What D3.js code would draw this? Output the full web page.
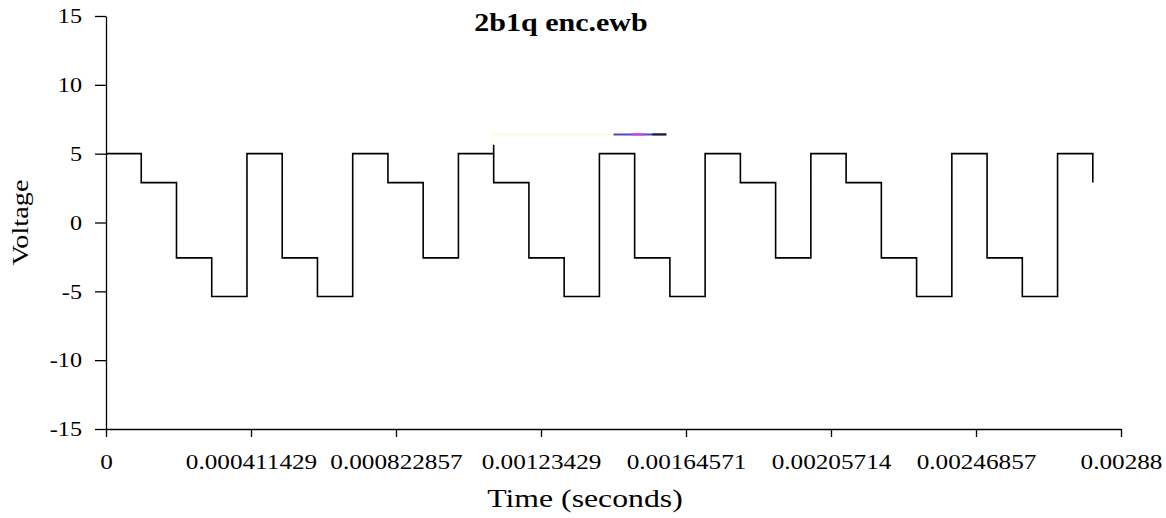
<!DOCTYPE html>
<html>
<head>
<meta charset="utf-8">
<script src="https://cdn.jsdelivr.net/npm/d3@7"></script>
<style>
  body { margin: 0; background: #fff; }
</style>
</head>
<body>
<svg id="chart" width="1166" height="518"></svg>
<script>
// step waveform (time in seconds, voltage in volts)
const times = [0, 0.0001, 0.0002, 0.0003, 0.0004, 0.0005, 0.0006, 0.0007, 0.0008, 0.0009,
  0.001, 0.0011, 0.0011, 0.0012, 0.0013, 0.0014, 0.0015, 0.0016, 0.0017, 0.0018, 0.0019,
  0.002, 0.0021, 0.0022, 0.0023, 0.0024, 0.0025, 0.0026, 0.0027, 0.0028]
const volts = [5, 2.9, -2.57, -5.37, 5, -2.57, -5.37, 5, 2.9, -2.57,
  5, 5.65, 2.9, -2.57, -5.37, 5, -2.57, -5.37, 5, 2.9, -2.57,
  5, 2.9, -2.57, -5.37, 5, -2.57, -5.37, 5, 2.9]
const xTicks = [0, 0.000411429, 0.000822857, 0.00123429, 0.00164571, 0.00205714, 0.00246857, 0.00288]
const xTickLabels = ['0', '0.000411429', '0.000822857', '0.00123429', '0.00164571', '0.00205714', '0.00246857', '0.00288']
const yTicks = [-15, -10, -5, 0, 5, 10, 15]
const title = '2b1q enc.ewb'

const margin = {top: 16, right: 45, bottom: 89, left: 106}
const width = 1166, height = 518
const serif = '"Liberation Serif", "Times New Roman", "DejaVu Serif", serif'

const svg = d3.select('#chart')

const x = d3.scaleLinear().domain([0, 0.00288]).range([margin.left, width - margin.right])
const y = d3.scaleLinear().domain([-15, 15]).range([height - margin.bottom, margin.top])

// the source font is wider than Times, so stretch each label a bit
const widen = (k) => (sel) => sel.each(function () {
  const len = this.getComputedTextLength()
  d3.select(this).attr('textLength', len * k).attr('lengthAdjust', 'spacingAndGlyphs')
})

// axes
const xAxis = svg.append('g')
  .attr('transform', `translate(0,${y(-15)})`)
  .call(d3.axisBottom(x).tickValues(xTicks).tickFormat((d, i) => xTickLabels[i]).tickSizeInner(8).tickSizeOuter(0).tickPadding(17))
xAxis.attr('font-family', null).attr('font-size', null)
xAxis.select('.domain').attr('stroke', '#000').attr('stroke-width', 1.3)
xAxis.selectAll('.tick line').attr('stroke', '#000').attr('stroke-width', 1.3)
xAxis.selectAll('.tick text').style('font-family', serif).style('font-size', '21px').call(widen(1.2))

const yAxis = svg.append('g')
  .attr('transform', `translate(${margin.left},0)`)
  .call(d3.axisLeft(y).tickValues(yTicks).tickFormat(d => String(d)).tickSizeInner(11).tickSizeOuter(0).tickPadding(13))
yAxis.attr('font-family', null).attr('font-size', null)
yAxis.select('.domain').attr('stroke', '#000').attr('stroke-width', 1.3)
yAxis.selectAll('.tick line').attr('stroke', '#000').attr('stroke-width', 1.3)
yAxis.selectAll('.tick text').style('font-family', serif).style('font-size', '21px').call(widen(1.15))

// waveform
const pts = times.map((t, i) => ({t: t, v: volts[i]}))
const line = d3.line()
  .x(d => x(d.t))
  .y(d => y(d.v))
  .curve(d3.curveStepAfter)

svg.append('path')
  .datum(pts)
  .attr('d', line)
  .attr('fill', 'none')
  .attr('stroke', '#000')
  .attr('stroke-width', 1.6)

// stray marker strip above the trace
svg.append('line')
  .attr('x1', x(0.00109)).attr('x2', x(0.00144))
  .attr('y1', y(6.4)).attr('y2', y(6.4))
  .attr('stroke', '#fffbd8').attr('stroke-width', 2)
svg.append('line')
  .attr('x1', x(0.00144)).attr('x2', x(0.00159))
  .attr('y1', y(6.4)).attr('y2', y(6.4))
  .attr('stroke', '#4a48c8').attr('stroke-width', 2)
svg.append('line')
  .attr('x1', x(0.00149)).attr('x2', x(0.00153))
  .attr('y1', y(6.4)).attr('y2', y(6.4))
  .attr('stroke', '#d040c8').attr('stroke-width', 2)
svg.append('line')
  .attr('x1', x(0.00155)).attr('x2', x(0.00159))
  .attr('y1', y(6.4)).attr('y2', y(6.4))
  .attr('stroke', '#222').attr('stroke-width', 2)

// titles
svg.append('text')
  .attr('x', 561).attr('y', 31)
  .attr('text-anchor', 'middle')
  .style('font-family', serif)
  .style('font-size', '25px')
  .style('font-weight', 'bold')
  .text(title)
  .call(widen(1.2))

svg.append('text')
  .attr('x', 585).attr('y', 507)
  .attr('text-anchor', 'middle')
  .style('font-family', serif)
  .style('font-size', '25px')
  .text('Time (seconds)')
  .call(widen(1.27))

svg.append('text')
  .attr('transform', `translate(28,${y(0)}) rotate(-90)`)
  .attr('text-anchor', 'middle')
  .style('font-family', serif)
  .style('font-size', '24px')
  .text('Voltage')
  .call(widen(1.18))
</script>
</body>
</html>
